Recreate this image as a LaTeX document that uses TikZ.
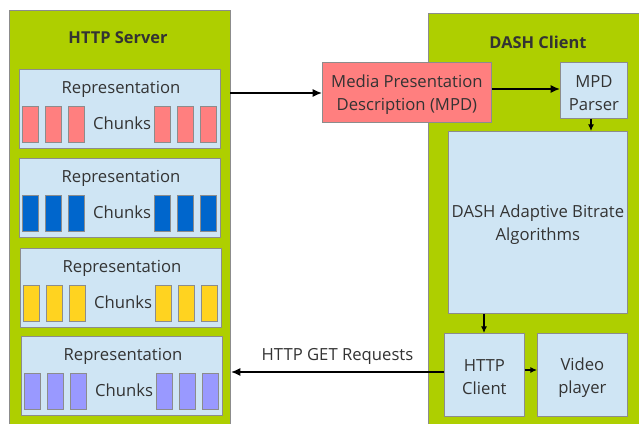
\documentclass[tikz,border=0pt]{standalone}
\usepackage{fontspec}
\setmainfont{Open Sans}
\usetikzlibrary{arrows.meta}
\definecolor{grn}{HTML}{AECF00}
\definecolor{lblue}{HTML}{CFE5F4}
\definecolor{bord}{HTML}{8C8C8C}
\definecolor{cred}{HTML}{FF7F7F}
\definecolor{cblue}{HTML}{0066CC}
\definecolor{cyel}{HTML}{FFD320}
\definecolor{cpur}{HTML}{9999FF}
\definecolor{txt}{HTML}{333333}
\tikzset{
  container/.style={draw=bord, fill=grn, line width=0.6pt},
  box/.style={draw=bord, fill=lblue, line width=0.6pt},
  chunk/.style={draw=bord, line width=0.6pt},
  lbl/.style={text=txt, font=\fontsize{12.5}{17.2}\selectfont, align=center, inner sep=0pt},
  mlbl/.style={lbl, yshift=-1.8pt},
  title/.style={text=txt, font=\fontsize{12.3}{14}\selectfont\bfseries, inner sep=0pt},
  arr/.style={-{Latex[length=7pt,width=6pt]}, line width=1.1pt, black},
  sarr/.style={-{Latex[length=5pt,width=4.5pt]}, line width=0.8pt, black}
}
\begin{document}
\begin{tikzpicture}[x=0.75pt,y=-0.75pt]
\useasboundingbox (0,0) rectangle (639,424);
\fill[white] (0,0) rectangle (639,424);
% containers
\path[container] (9,10) rectangle (230,430);
\node[title] (srvt) at (118,38) {HTTP Server};
\path[container] (428,13) rectangle (645,430);
\node[title] (clit) at (538,42) {DASH Client};
% representations
\foreach \i/\x/\y/\c in {1/19/69/cred, 2/19/158/cblue, 3/20/248/cyel, 4/21/336/cpur}{
  \node[box, minimum width=201*0.75pt, minimum height=79*0.75pt, anchor=north west, inner sep=0pt] (rep\i) at (\x,\y) {};
  \node[lbl] (rept\i) at (\x+102,\y+20) {Representation};
  \node[lbl] (chk\i) at (\x+103,\y+54) {Chunks};
  \foreach \dx in {3,26,49,135,158,181}{
    \path[chunk, fill=\c] (\x+\dx,\y+37) rectangle (\x+\dx+16,\y+73);
  }
}
% MPD
\node[draw=bord, fill=cred, line width=0.6pt, minimum width=169*0.75pt, minimum height=60*0.75pt, anchor=north west, inner sep=0pt] (mpd) at (322,62) {};
\node[mlbl] at (mpd.center) {Media Presentation\\Description (MPD)};
% parser
\node[box, minimum width=67*0.75pt, minimum height=56*0.75pt, anchor=north west, inner sep=0pt] (parser) at (560,62) {};
\node[mlbl] at (parser.center) {MPD\\Parser};
% algorithms
\node[box, minimum width=179*0.75pt, minimum height=182*0.75pt, anchor=north west, inner sep=0pt] (alg) at (448,131) {};
\node[mlbl] at (alg.center) {DASH Adaptive Bitrate\\Algorithms};
% http client
\node[box, minimum width=80*0.75pt, minimum height=83*0.75pt, anchor=north west, inner sep=0pt] (hc) at (444,333) {};
\node[mlbl] at (hc.center) {HTTP\\Client};
% video player
\node[box, minimum width=90*0.75pt, minimum height=83*0.75pt, anchor=north west, inner sep=0pt] (vp) at (537,333) {};
\node[mlbl] at (vp.center) {Video\\player};
% arrows
\coordinate (srvout) at (230,93);
\coordinate (srvin) at (231,372);
\draw[arr] (srvout) -- (mpd.west |- srvout);
\draw[arr] (mpd.east |- 0,89) -- (parser.west |- 0,89);
\draw[sarr] (parser.south -| 591,0) -- (alg.north -| 591,0);
\draw[sarr] (alg.south -| 484,0) -- (hc.north -| 484,0);
\draw[sarr] (hc.east |- 0,370) -- (vp.west |- 0,370);
\draw[arr] (hc.west |- srvin) -- node[lbl, above=5pt] {HTTP GET Requests} (srvin);
\end{tikzpicture}
\end{document}
